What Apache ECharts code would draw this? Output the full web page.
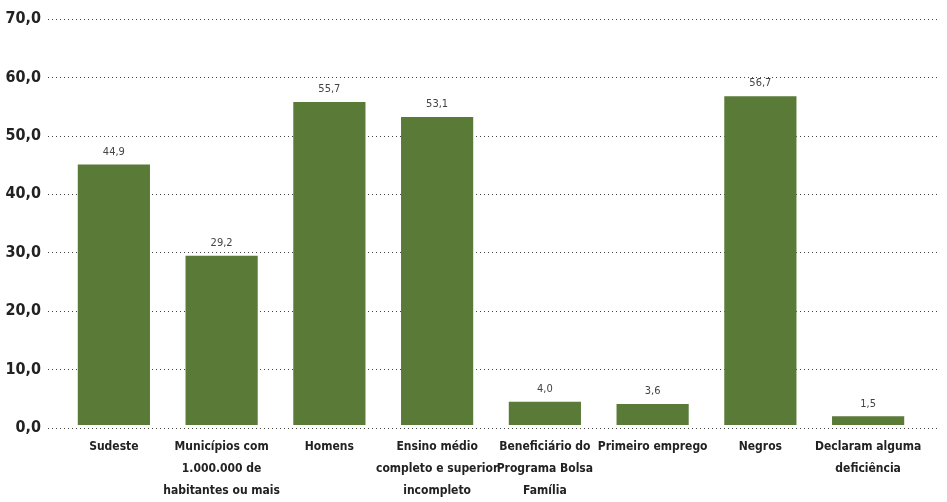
<!DOCTYPE html>
<html><head><meta charset="utf-8">
<script src="https://cdn.jsdelivr.net/npm/echarts@6/dist/echarts.min.js"></script>
<style>html,body{margin:0;padding:0;background:#fff}#c{width:947px;height:502px}</style>
</head><body><div id="c"></div>
<script>
const categories = ["Sudeste", "Municípios com\n1.000.000 de\nhabitantes ou mais", "Homens", "Ensino médio\ncompleto e superior\nincompleto", "Beneficiário do\nPrograma Bolsa\nFamília", "Primeiro emprego", "Negros", "Declaram alguma\ndeficiência"];
const values = [44.9, 29.2, 55.7, 53.1, 4.0, 3.6, 56.7, 1.5];
const yMin = 0, yMax = 70, yStep = 10;

const FONT = '"DejaVu Sans Condensed", "Liberation Sans Narrow", sans-serif';
const fmt = v => v.toFixed(1).replace('.', ',');
const chart = echarts.init(document.getElementById('c'));
chart.setOption({
  animation: false,
  grid: [
    {left: 48, right: 7, top: 19, bottom: 74},
    {left: 60, right: 25, top: 19, bottom: 74}
  ],
  xAxis: [
    {gridIndex: 0, type: 'value', show: false},
    {gridIndex: 1, type: 'category', data: categories,
     axisLine: {show: false}, axisTick: {show: false},
     axisLabel: {interval: 0, margin: 11, color: '#222', fontFamily: FONT, fontWeight: 'bold', fontSize: 12, lineHeight: 22}}
  ],
  yAxis: [
    {gridIndex: 0, type: 'value', min: yMin, max: yMax, interval: yStep,
     axisLine: {show: false}, axisTick: {show: false},
     splitLine: {lineStyle: {type: [1, 3], color: '#444', width: 1}},
     axisLabel: {margin: 7, color: '#222', fontFamily: FONT, fontWeight: 'bold', fontSize: 16, formatter: fmt}},
    {gridIndex: 1, type: 'value', min: yMin, max: yMax, interval: yStep, show: false, splitLine: {show: false}}
  ],
  series: [{
    type: 'bar', xAxisIndex: 1, yAxisIndex: 1, data: values,
    barCategoryGap: '33%',
    itemStyle: {color: '#5a7a38'},
    label: {show: true, position: 'top', distance: 7, color: '#444', fontFamily: FONT, fontSize: 11,
            formatter: p => fmt(p.value)}
  }]
});
</script></body></html>
